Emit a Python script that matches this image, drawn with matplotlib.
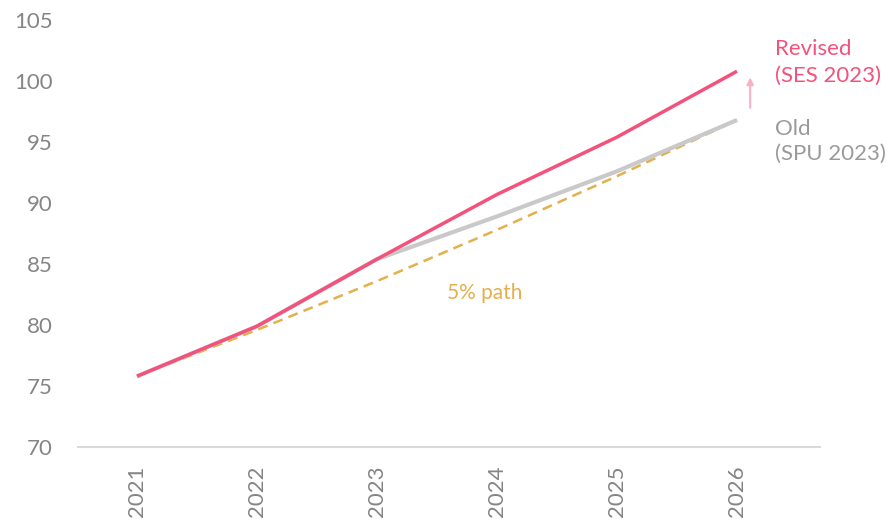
import matplotlib
matplotlib.use("Agg")
import matplotlib.pyplot as plt

years = [2021, 2022, 2023, 2024, 2025, 2026]
revised = [75.8, 79.9, 85.4, 90.7, 95.4, 100.8]
old = [75.8, 79.9, 85.4, 88.9, 92.6, 96.8]
path5 = [75.8, 79.6, 83.6, 87.8, 92.2, 96.8]
yticks = [70, 75, 80, 85, 90, 95, 100, 105]

plt.rcParams['font.family'] = ['Lato', 'DejaVu Sans']

W, H = 889, 520
fig = plt.figure(figsize=(W / 100, H / 100), dpi=100)
ax = fig.add_axes([78 / W, 1 - 447 / H, (820 - 78) / W, (447 - 20) / H])

red = '#f2527b'
grey = '#c9c9c9'
gold = '#e3b04b'

ax.plot(years, path5, color=gold, lw=1.8, ls=(0, (4, 2.5)), zorder=2)
ax.plot(years, old, color=grey, lw=3, zorder=3, solid_capstyle='butt')
ax.plot(years, revised, color=red, lw=2.5, zorder=4, solid_capstyle='butt')

ax.set_xlim(2020.508, 2026.692)
ax.set_ylim(70, 105)
ax.set_yticks(yticks)
ax.set_xticks(years)
ax.set_xticklabels([str(y) for y in years], rotation=90, va='top')

for s in ['top', 'right', 'left']:
    ax.spines[s].set_visible(False)
ax.spines['bottom'].set_color('#d9d9d9')
ax.spines['bottom'].set_linewidth(1.5)
ax.tick_params(axis='both', length=0, labelcolor='#858585', labelsize=16)
ax.tick_params(axis='y', pad=18)
ax.tick_params(axis='x', pad=13)

ax.text(2026.32, 99.6, 'Revised\n(SES 2023)', color=red, fontsize=16,
        ha='left', va='bottom', linespacing=1.4, clip_on=False)
ax.text(2026.32, 96.9, 'Old\n(SPU 2023)', color='#9a9a9a', fontsize=16,
        ha='left', va='top', linespacing=1.3, clip_on=False)
ax.annotate('', xy=(2026.11, 100.3), xytext=(2026.11, 97.8),
            arrowprops=dict(arrowstyle='-|>', color='#f7b3c5', lw=1.5,
                            mutation_scale=10, shrinkA=0, shrinkB=0),
            annotation_clip=False)
ax.text(2023.9, 82.6, '5% path', color=gold, fontsize=15,
        ha='center', va='center')

fig.savefig('out.png', dpi=100)
